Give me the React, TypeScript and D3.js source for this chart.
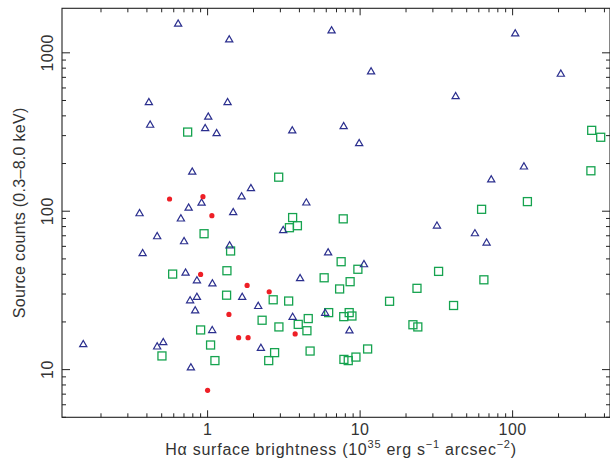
import React from 'react';
import * as d3 from 'd3';

// [H-alpha surface brightness, source counts]
const triangles: [number, number][] = [
  [0.641, 1538], [1.386, 1225], [0.412, 492], [1.352, 492], [1.01, 398],
  [0.42, 354], [0.964, 337], [1.146, 313], [3.59, 326], [0.793, 179],
  [1.923, 141], [1.671, 125], [0.913, 114], [0.751, 106], [0.358, 97.8],
  [1.472, 99.3], [0.668, 90.6], [3.13, 76.6], [4.44, 114.3], [6.5, 1395],
  [104, 1336], [11.8, 769], [207, 743], [42.3, 537], [7.8, 347],
  [9.86, 271], [118.6, 193], [72.4, 160], [31.9, 81.8], [56.6, 73.1],
  [67.5, 63.9], [0.467, 70.0], [0.701, 65.1], [0.375, 54.7], [1.394, 61.2],
  [0.717, 41.2], [0.851, 36.9], [1.075, 35.3], [0.768, 27.6], [0.851, 29.0],
  [0.829, 23.8], [1.686, 29.0], [2.147, 25.4], [3.61, 21.7], [4.04, 38.1],
  [1.072, 17.9], [0.153, 14.6], [0.467, 14.1], [0.512, 15.0], [2.236, 13.8],
  [0.777, 10.4], [6.17, 55.3], [10.6, 46.6], [5.9, 23.0], [8.51, 17.8],
];

const squares: [number, number][] = [
  [0.74, 316], [2.925, 164], [3.61, 91.2], [3.88, 81.0], [3.44, 78.7],
  [330, 324], [378, 293], [326, 180], [125, 115], [62.6, 102.8],
  [7.75, 89.5], [0.948, 72.1], [1.415, 56.1], [0.59, 40.1], [1.339, 42.1],
  [1.332, 29.5], [2.692, 27.6], [3.4, 27.1], [2.277, 20.5], [0.9, 17.8],
  [2.935, 18.6], [3.93, 19.3], [4.48, 17.6], [1.046, 14.3], [0.502, 12.2],
  [1.117, 11.4], [2.516, 11.4], [2.75, 12.8], [7.51, 48.0], [9.67, 43.0],
  [32.7, 41.7], [5.81, 38.0], [8.6, 35.9], [64.8, 36.9], [7.34, 32.3],
  [23.6, 32.6], [15.6, 27.0], [41.0, 25.4], [6.22, 22.9], [8.48, 22.9],
  [7.81, 21.6], [8.84, 21.8], [4.57, 21.0], [22.2, 19.2], [23.9, 18.6],
  [4.7, 13.1], [11.2, 13.5], [9.39, 12.0], [7.83, 11.6], [8.36, 11.4],
];

const dots: [number, number][] = [
  [0.563, 119.4], [0.932, 123.5], [1.067, 93.7], [0.9, 39.9], [1.816, 34.0],
  [2.535, 31.0], [1.38, 22.3], [1.597, 15.9], [1.843, 15.9], [3.75, 16.8],
  [1.0, 7.4],
];

const xMajor = [1, 10, 100];
const yMajor = [10, 100, 1000];
const xMinor = [0.2, 0.3, 0.4, 0.5, 0.6, 0.7, 0.8, 0.9, 2, 3, 4, 5, 6, 7, 8, 9,
  20, 30, 40, 50, 60, 70, 80, 90, 200, 300, 400];
const yMinor = [5, 6, 7, 8, 9, 20, 30, 40, 50, 60, 70, 80, 90,
  200, 300, 400, 500, 600, 700, 800, 900];

const W = 610;
const H = 461;
const left = 62, right = 610, top = 8.3, bottom = 417.3;

const axisColor = '#222';
const textColor = '#333';
const font = '"Liberation Sans", Arial, sans-serif';

export default function App() {
  const x = d3.scaleLog().domain([0.111, 435]).range([left, right]);
  const y = d3.scaleLog().domain([5, 1910]).range([bottom, top]);

  const tri = (cx: number, cy: number) =>
    `M${cx - 3.6},${cy + 3} L${cx + 3.6},${cy + 3} L${cx},${cy - 3.2} Z`;

  return (
    <svg width={W} height={H} style={{ position: 'absolute', left: 0, top: 0, background: '#fff' }}
      fontFamily={font}>
      <rect x={0} y={0} width={W} height={H} fill="#fff" />

      {/* frame */}
      <rect x={left} y={top} width={right - left} height={bottom - top}
        fill="none" stroke={axisColor} strokeWidth={1.1} />

      {/* x ticks, bottom and top */}
      {[...xMajor.map(v => [v, 7]), ...xMinor.map(v => [v, 4])].map(([v, len], i) => (
        <g key={'xt' + i} stroke={axisColor} strokeWidth={1}>
          <line x1={x(v)} x2={x(v)} y1={bottom} y2={bottom - len} />
          <line x1={x(v)} x2={x(v)} y1={top} y2={top + len} />
        </g>
      ))}
      {/* y ticks, left and right */}
      {[...yMajor.map(v => [v, 8]), ...yMinor.map(v => [v, 4])].map(([v, len], i) => (
        <g key={'yt' + i} stroke={axisColor} strokeWidth={1}>
          <line x1={left} x2={left + len} y1={y(v)} y2={y(v)} />
          <line x1={right} x2={right - len} y1={y(v)} y2={y(v)} />
        </g>
      ))}

      {/* tick labels */}
      {xMajor.map(v => (
        <text key={'xl' + v} x={x(v)} y={435} textAnchor="middle" fontSize={16} fill={textColor}
          letterSpacing={0.5}>
          {v}
        </text>
      ))}
      {yMajor.map(v => (
        <text key={'yl' + v} transform={`translate(53,${y(v)}) rotate(-90)`} textAnchor="middle"
          fontSize={16} fill={textColor} letterSpacing={0.5}>
          {v}
        </text>
      ))}

      {/* axis titles */}
      <text x={341} y={455} textAnchor="middle" fontSize={16} fill={textColor} letterSpacing={0.75}>
        Hα surface brightness (10
        <tspan dy={-7} fontSize={11}>35</tspan>
        <tspan dy={7}> erg s</tspan>
        <tspan dy={-7} fontSize={11}>−1</tspan>
        <tspan dy={7}> arcsec</tspan>
        <tspan dy={-7} fontSize={11}>−2</tspan>
        <tspan dy={7}>)</tspan>
      </text>
      <text transform={`translate(25,${(top + bottom) / 2}) rotate(-90)`} textAnchor="middle"
        fontSize={16} fill={textColor} letterSpacing={0.3}>
        Source counts (0.3–8.0 keV)
      </text>

      {/* markers */}
      <g fill="none" stroke="#16a34f" strokeWidth={1.3}>
        {squares.map(([a, b], i) => (
          <rect key={'s' + i} x={x(a) - 4} y={y(b) - 4} width={8} height={8} />
        ))}
      </g>
      <g fill="none" stroke="#2b2f8e" strokeWidth={1.2} strokeLinejoin="miter">
        {triangles.map(([a, b], i) => (
          <path key={'t' + i} d={tri(x(a), y(b))} />
        ))}
      </g>
      <g fill="#ee1f26">
        {dots.map(([a, b], i) => (
          <circle key={'d' + i} cx={x(a)} cy={y(b)} r={2.6} />
        ))}
      </g>
    </svg>
  );
}
